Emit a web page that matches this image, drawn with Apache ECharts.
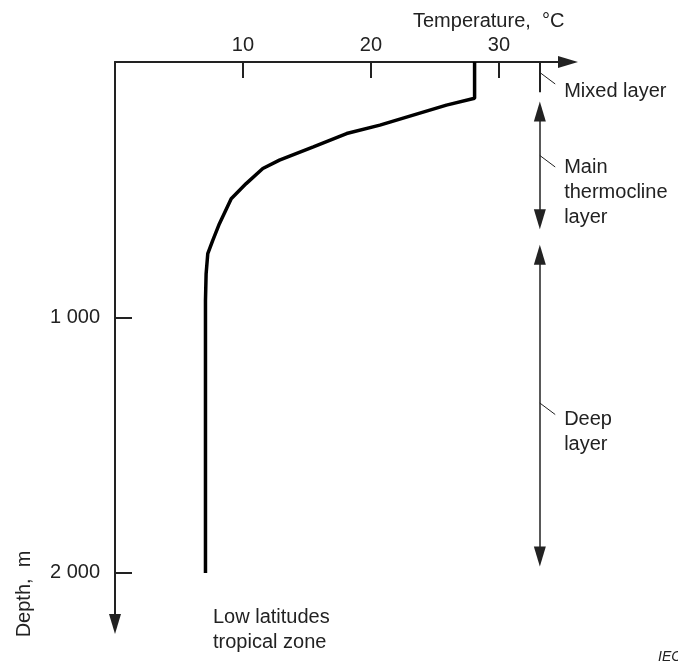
<!DOCTYPE html>
<html>
<head>
<meta charset="utf-8">
<script src="https://cdn.jsdelivr.net/npm/echarts@6/dist/echarts.min.js"></script>
<style>
  html, body { margin: 0; padding: 0; background: #fff; }
  #chart { width: 678px; height: 666px; }
</style>
</head>
<body>
<div id="chart"></div>
<script type="text/javascript">
// temperature profile, low latitudes
var profileTemp  = [28.1, 28.1, 25.9, 23.3, 20.7, 18.1, 15.5, 12.85, 11.55, 10.25, 9.08, 8.16, 7.64, 7.25, 7.12, 7.07, 7.07];
var profileDepth = [0, 142, 169, 208, 247, 280, 332, 384, 417, 476, 535, 633, 698, 750, 829, 933, 2000];

var tempTicks  = [10, 20, 30];
var depthTicks = [1000, 2000];

// layer markers on the right
var layerNames      = ['Mixed layer', 'Main\nthermocline\nlayer', 'Deep\nlayer'];
var layerTop        = [0, 155, 715];
var layerBottom     = [118, 655, 1975];
var layerLabelDepth = [117, 511, 1448];
var leaderDepth     = [41, 366, 1335];
var layerTemp = 33.2;
var labelTemp = 35.1;

var font = 'Liberation Sans, Arial, sans-serif';
var ink = '#222';

var depthMax = 2200, gridH = 562;
var arrowHalf = 10 * depthMax / gridH;   // half arrow length in metres

var profile = profileTemp.map(function (t, i) { return [t, profileDepth[i]]; });

var markData = [];
layerNames.forEach(function (n, i) {
  if (i === 0) {
    markData.push([
      { coord: [layerTemp, layerTop[i]], symbol: 'none', lineStyle: { width: 2 } },
      { coord: [layerTemp, layerBottom[i]], symbol: 'none' }
    ]);
  } else {
    markData.push([
      { coord: [layerTemp, layerTop[i] + arrowHalf], symbol: 'triangle' },
      { coord: [layerTemp, layerBottom[i] - arrowHalf], symbol: 'triangle' }
    ]);
  }
  // small leader line to the label
  markData.push([
    { coord: [layerTemp, leaderDepth[i]], symbol: 'none', lineStyle: { width: 1 } },
    { coord: [layerTemp + 1.2, leaderDepth[i] + 45], symbol: 'none' }
  ]);
});

var chart = echarts.init(document.getElementById('chart'));
var option = {
  animation: false,
  backgroundColor: '#fff',
  textStyle: { fontFamily: font, color: ink },
  grid: { left: 115, top: 62, width: 453, height: gridH, containLabel: false, outerBoundsMode: 'none' },
  xAxis: {
    type: 'value',
    position: 'top',
    min: 0,
    max: 35.4,
    interval: 10,
    axisLine: { onZero: false, lineStyle: { color: ink, width: 2 }, symbol: ['none', 'triangle'], symbolSize: [12, 20] },
    axisTick: { show: true, inside: true, length: 16, customValues: tempTicks, lineStyle: { color: ink, width: 2 } },
    axisLabel: { customValues: tempTicks, margin: 7, fontSize: 20, color: ink, fontFamily: font },
    splitLine: { show: false }
  },
  yAxis: {
    type: 'value',
    inverse: true,
    min: 0,
    max: depthMax,
    interval: 1000,
    axisLine: { onZero: false, lineStyle: { color: ink, width: 2 }, symbol: ['triangle', 'none'], symbolSize: [12, 20] },
    axisTick: { show: true, inside: true, length: 17, customValues: depthTicks, lineStyle: { color: ink, width: 2 } },
    axisLabel: {
      customValues: depthTicks, margin: 15, fontSize: 20, color: ink, fontFamily: font,
      formatter: function (v) { return String(v).replace(/\B(?=(\d{3})+(?!\d))/g, ' '); }
    },
    splitLine: { show: false }
  },
  series: [
    {
      type: 'line',
      data: profile,
      showSymbol: false,
      silent: true,
      lineStyle: { color: '#000', width: 3.5 },
      markLine: {
        silent: true,
        symbolSize: [12, 20],
        label: { show: false },
        lineStyle: { color: ink, type: 'solid', width: 1.5 },
        emphasis: { disabled: true },
        data: markData
      }
    },
    {
      type: 'scatter',
      silent: true,
      symbolSize: 0,
      itemStyle: { opacity: 1 },
      data: layerNames.map(function (n, i) { return [labelTemp, layerLabelDepth[i]]; }),
      label: {
        show: true,
        position: 'right',
        distance: 0,
        align: 'left',
        fontSize: 20,
        lineHeight: 25,
        color: ink,
        opacity: 1,
        fontFamily: font,
        formatter: function (p) { return layerNames[p.dataIndex]; }
      }
    }
  ],
  graphic: [
    { type: 'text', x: 413, y: 21, style: { text: 'Temperature,  \u00b0C', font: '20px ' + font, fill: ink, verticalAlign: 'middle' } },
    { type: 'text', x: 24, y: 594, rotation: Math.PI / 2, style: { text: 'Depth,  m', font: '20px ' + font, fill: ink, align: 'center', verticalAlign: 'middle' } },
    { type: 'text', x: 213, y: 605, style: { text: 'Low latitudes\ntropical zone', font: '20px ' + font, lineHeight: 25, fill: ink } },
    { type: 'text', x: 658, y: 657, style: { text: 'IEC', font: 'italic 14px ' + font, fill: ink, verticalAlign: 'middle' } }
  ]
};
chart.setOption(option);
</script>
</body>
</html>
